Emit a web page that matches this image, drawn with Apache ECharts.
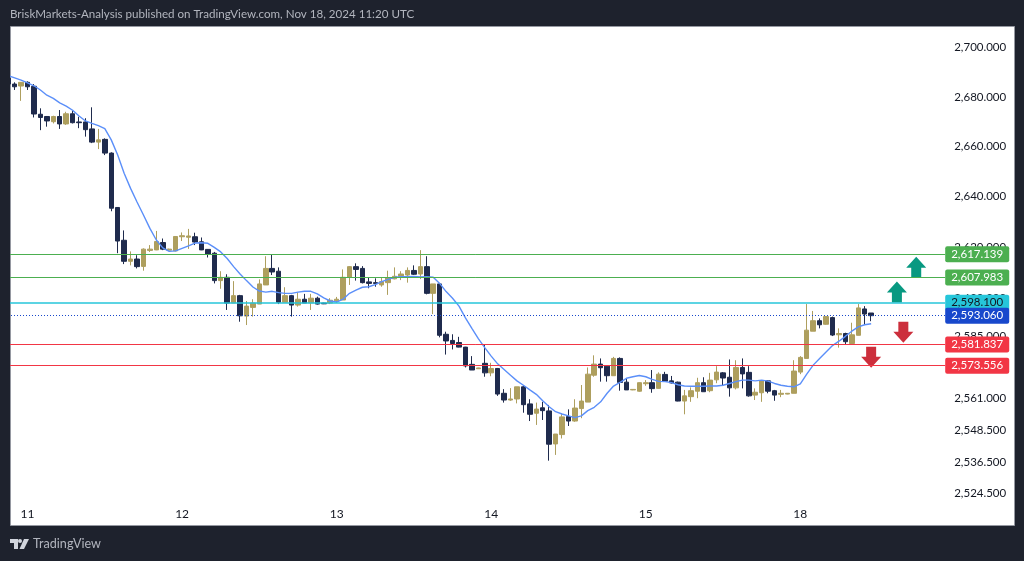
<!DOCTYPE html>
<html>
<head>
<meta charset="utf-8">
<title>XAUUSD H1</title>
<script src="https://cdn.jsdelivr.net/npm/echarts@6/dist/echarts.min.js"></script>
<style>
    html, body { margin: 0; padding: 0; background: #1e222d; }
    #chart { width: 1024px; height: 561px; }
</style>
</head>
<body>
<div id="chart"></div>
<script>
// hourly candles: open, close, low, high
const candles = [
    [2687.6,2685.2,2684.4,2688.0],[2685.2,2684.1,2682.8,2685.9],[2684.4,2685.9,2678.4,2686.0],[2685.9,2684.1,2682.8,2686.3],
    [2684.3,2673.1,2671.7,2685.2],[2673.0,2671.7,2666.6,2675.4],[2672.1,2670.3,2668.0,2672.3],[2670.0,2672.1,2669.3,2672.4],
    [2672.1,2669.1,2667.1,2674.7],[2669.1,2673.2,2668.7,2674.0],[2673.2,2669.6,2669.3,2674.4],[2669.9,2669.6,2667.4,2672.0],
    [2669.9,2666.8,2664.0,2671.4],[2667.1,2661.8,2661.4,2675.8],[2661.8,2662.7,2659.0,2667.1],[2662.9,2657.4,2656.6,2663.3],
    [2657.4,2635.4,2634.2,2657.7],[2635.7,2622.4,2617.6,2635.8],[2622.7,2614.4,2613.3,2626.6],[2614.4,2615.3,2612.8,2618.3],
    [2615.3,2612.3,2611.6,2616.8],[2612.4,2619.2,2610.7,2619.5],[2618.7,2619.2,2618.1,2620.8],[2618.9,2622.2,2618.8,2626.4],
    [2621.8,2619.2,2618.8,2623.4],[2618.8,2619.2,2618.6,2619.4],[2618.5,2624.2,2618.3,2624.3],[2624.1,2624.5,2622.4,2625.8],
    [2623.9,2624.4,2619.3,2627.2],[2624.1,2622.0,2620.8,2625.7],[2622.1,2618.9,2618.8,2623.8],[2619.1,2617.2,2615.9,2619.2],
    [2617.6,2606.8,2605.7,2618.1],[2606.8,2608.1,2603.6,2610.5],[2608.1,2598.0,2595.3,2609.3],[2598.0,2600.9,2598.0,2606.6],
    [2600.9,2593.0,2590.7,2601.2],[2592.9,2596.8,2589.4,2598.8],[2596.3,2598.0,2592.7,2599.5],[2597.6,2605.5,2597.6,2607.3],
    [2605.1,2611.6,2605.1,2616.4],[2611.6,2610.2,2609.0,2617.2],[2610.5,2598.3,2597.6,2612.0],[2598.3,2600.9,2598.3,2604.2],
    [2600.9,2597.2,2592.7,2601.2],[2597.2,2599.5,2596.6,2602.2],[2599.5,2598.0,2598.0,2601.6],[2598.1,2599.9,2595.3,2601.6],
    [2599.9,2597.6,2597.4,2600.5],[2598.0,2597.7,2597.6,2598.1],[2598.0,2599.1,2597.6,2599.9],[2598.9,2599.5,2598.1,2600.4],
    [2599.2,2608.1,2599.2,2611.2],[2608.1,2612.3,2605.1,2612.5],[2612.3,2611.2,2606.8,2613.6],[2611.6,2606.0,2605.7,2612.5],
    [2606.3,2605.7,2603.8,2608.1],[2606.0,2605.7,2604.4,2607.7],[2605.1,2606.4,2604.4,2608.1],[2606.0,2608.0,2601.2,2610.7],
    [2607.5,2608.5,2607.3,2612.0],[2608.5,2609.4,2607.0,2610.5],[2609.0,2610.8,2606.0,2612.0],[2610.8,2609.3,2609.0,2612.8],
    [2609.4,2612.3,2607.4,2618.8],[2612.3,2601.8,2601.4,2616.4],[2601.8,2605.5,2593.7,2605.5],[2605.5,2585.4,2584.6,2605.8],
    [2585.8,2583.2,2577.9,2586.8],[2583.4,2582.2,2579.9,2585.8],[2582.6,2580.8,2580.7,2584.8],[2580.8,2573.5,2572.9,2580.9],
    [2574.1,2571.9,2571.9,2577.3],[2572.4,2572.7,2572.3,2572.8],[2574.5,2570.8,2569.3,2582.0],[2570.8,2572.5,2569.5,2574.7],
    [2572.5,2562.6,2561.9,2572.7],[2562.9,2560.3,2559.3,2564.5],[2560.3,2560.7,2560.0,2564.9],[2560.7,2565.4,2559.0,2565.4],
    [2565.4,2558.5,2555.4,2565.7],[2558.8,2554.8,2552.2,2560.6],[2555.2,2556.8,2550.7,2559.3],[2557.3,2556.2,2552.6,2559.6],
    [2556.1,2543.3,2537.0,2558.4],[2543.4,2547.2,2539.2,2547.2],[2547.0,2553.8,2545.5,2554.9],[2553.9,2552.2,2550.3,2556.7],
    [2552.2,2557.2,2551.9,2560.6],[2557.0,2559.9,2553.3,2566.1],[2559.5,2570.3,2559.5,2572.9],[2569.9,2574.2,2569.3,2577.6],
    [2574.2,2572.8,2567.4,2576.4],[2573.4,2569.7,2567.4,2573.7],[2569.7,2576.4,2569.7,2577.0],[2576.4,2567.1,2563.9,2576.8],
    [2567.2,2564.2,2564.2,2568.7],[2564.2,2564.4,2564.1,2564.5],[2563.7,2567.0,2563.5,2567.1],[2566.6,2567.0,2565.8,2568.0],
    [2567.0,2564.7,2563.1,2571.9],[2564.8,2570.3,2564.7,2571.0],[2570.2,2567.6,2567.4,2571.2],[2567.7,2566.9,2566.7,2569.6],
    [2567.2,2559.9,2559.8,2567.4],[2559.9,2561.9,2554.8,2564.2],[2561.6,2563.9,2559.6,2565.2],[2563.7,2567.0,2561.0,2568.9],
    [2567.0,2563.5,2563.5,2569.1],[2563.9,2568.0,2563.3,2570.8],[2568.1,2571.1,2566.8,2573.4],[2570.8,2568.8,2565.7,2571.1],
    [2569.1,2565.0,2561.6,2576.0],[2565.0,2572.9,2564.4,2575.7],[2572.9,2570.4,2564.8,2576.4],[2571.0,2561.9,2561.6,2573.4],
    [2562.2,2563.3,2560.3,2564.8],[2563.1,2567.7,2559.6,2567.7],[2567.7,2563.7,2562.9,2568.0],[2563.9,2562.2,2560.0,2564.2],
    [2562.5,2562.9,2561.4,2564.2],[2562.6,2562.9,2562.5,2563.0],[2562.9,2571.5,2562.9,2575.7],[2571.1,2576.8,2570.3,2577.3],
    [2576.4,2587.4,2576.4,2597.6],[2587.0,2591.1,2587.0,2594.9],[2591.1,2589.5,2588.1,2592.0],[2589.7,2592.7,2589.5,2592.9],
    [2592.3,2585.5,2585.1,2592.7],[2585.6,2586.1,2580.6,2588.1],[2586.1,2582.9,2581.7,2586.4],[2582.2,2585.6,2582.0,2590.3],
    [2585.4,2596.1,2585.4,2597.6],[2595.7,2593.7,2589.4,2596.8],[2594.1,2593.06,2590.9,2594.1]
]

const maValues = [
    2688.6,2687.7,2686.8,2685.7,2684.5,2682.8,2680.7,2679.4,2677.6,2676.3,2674.6,2672.3,2670.3,2669.3,2668.4,2667.2,
    2662.7,2656.6,2649.3,2643.3,2637.9,2632.7,2627.4,2622.8,2619.7,2618.3,2618.5,2619.5,2620.5,2621.6,2621.7,2621.5,
    2619.9,2618.1,2615.5,2612.3,2609.4,2606.8,2604.3,2602.7,2602.3,2602.6,2602.1,2601.8,2601.8,2602.3,2602.6,2602.6,
    2601.6,2600.0,2598.8,2598.4,2599.5,2601.8,2603.1,2604.2,2604.4,2605.2,2606.4,2607.3,2608.1,2608.3,2608.3,2608.4,
    2608.2,2608.3,2608.1,2605.7,2602.5,2599.9,2596.8,2592.2,2588.1,2584.1,2580.6,2577.3,2574.3,2572.1,2569.9,2567.7,
    2566.0,2564.2,2562.5,2560.0,2557.7,2555.8,2554.9,2554.2,2553.5,2554.2,2556.2,2557.5,2559.6,2562.9,2565.7,2567.1,
    2568.7,2569.3,2569.8,2569.3,2568.3,2567.5,2567.4,2567.0,2566.2,2565.7,2565.6,2565.6,2565.6,2565.7,2565.7,2566.0,
    2566.7,2567.4,2568.0,2568.0,2567.7,2568.0,2567.6,2566.7,2566.0,2565.6,2565.4,2566.5,2570.3,2573.8,2576.4,2578.9,
    2581.4,2583.1,2585.0,2587.0,2588.7,2589.5,2589.9
]

const tickValues = [2700, 2680, 2660, 2640, 2620, 2600, 2585, 2561, 2548.5, 2536.5, 2524.5]

const dayTicks = { 3: '11', 27: '12', 51: '13', 75: '14', 99: '15', 123: '18' }
const bandCount = 146

const levelPrices = [2617.139, 2607.983, 2598.1, 2581.837, 2573.556]
const levelColors = ['#4caf50', '#4caf50', '#26c6da', '#f23645', '#f23645']
const levelText = ['#ffffff', '#ffffff', '#131722', '#ffffff', '#ffffff']
const lastPrice = 2593.06

const upArrows = [[138, 2602.3], [141, 2612.1]]
const downArrows = [[139, 2586.6], [134, 2576.9]]

const categories = []
for (let i = 0; i < bandCount; i++) {
    categories.push(dayTicks[i] || '')
}

const fmtPrice = v => Number(v).toLocaleString('en-US', { minimumFractionDigits: 3, maximumFractionDigits: 3 })

const tag = (value, bg, color) => ({
    yAxis: value,
    symbol: 'none',
    itemStyle: { color: bg },
    label: {
        show: true,
        position: 'end',
        distance: 0,
        formatter: fmtPrice(value),
        color: color,
        backgroundColor: bg,
        fontFamily: 'Lato',
        fontSize: 11.5,
        padding: [2, 6],
        borderRadius: 2
    },
    lineStyle: { color: bg, width: 1, type: 'solid', opacity: 1 }
})

const levelLines = levelPrices.map((p, i) => tag(p, levelColors[i], levelText[i]))
levelLines[2].lineStyle.width = 1.5 // cyan one is heavier
const lastLine = tag(lastPrice, '#1848cc', '#ffffff')
lastLine.lineStyle = { color: '#1848cc', width: 1, type: [1, 2] }
levelLines.push(lastLine)

const chart = echarts.init(document.getElementById('chart'), null, { renderer: 'canvas' })
chart.setOption({
    animation: false,
    backgroundColor: '#1e222d',
    title: {
        text: 'BriskMarkets-Analysis published on TradingView.com, Nov 18, 2024 11:20 UTC',
        left: 5,
        top: 3,
        textStyle: { color: '#b2b5be', fontFamily: 'Lato', fontSize: 11.6, fontWeight: 'normal' }
    },
    graphic: [
        {
            type: 'rect', z: -10,
            shape: { x: 10.5, y: 26.5, width: 1004, height: 499 },
            style: { fill: '#ffffff', stroke: '#9598a1', lineWidth: 1 }
        },
        {
            type: 'rect', z: 100,
            shape: { x: 0, y: 26, width: 10, height: 501 },
            style: { fill: '#1e222d' }
        },
        // logo
        {
            type: 'polygon', z: 100,
            shape: { points: [[10, 539], [18, 539], [18, 549], [14, 549], [14, 543], [10, 543]] },
            style: { fill: '#d1d4dc' }
        },
        {
            type: 'circle', z: 100,
            shape: { cx: 20, cy: 541, r: 2 },
            style: { fill: '#d1d4dc' }
        },
        {
            type: 'polygon', z: 100,
            shape: { points: [[24, 539], [29, 539], [24, 549], [19.5, 549]] },
            style: { fill: '#d1d4dc' }
        },
        {
            type: 'text', z: 100, x: 33, y: 537,
            style: { text: 'TradingView', fill: '#b2b5be', fontFamily: 'Lato', fontSize: 12.6 }
        }
    ],
    grid: { left: 5, top: 26, right: 78.8, bottom: 61 },
    xAxis: {
        type: 'category',
        data: categories,
        boundaryGap: true,
        axisLine: { show: false },
        axisTick: { show: false },
        splitLine: { show: false },
        axisLabel: {
            interval: 0,
            margin: 8,
            color: '#131722',
            fontFamily: 'Lato',
            fontSize: 12
        }
    },
    yAxis: {
        type: 'log',
        logBase: 10,
        position: 'right',
        min: 2522,
        max: 2708.8,
        axisLine: { show: false },
        axisTick: { show: false },
        splitLine: { show: false },
        axisLabel: {
            margin: 9,
            customValues: tickValues,
            color: '#131722',
            fontFamily: 'Lato',
            fontSize: 11.5,
            padding: [0, 0, 2, 0],
            formatter: fmtPrice
        }
    },
    series: [
        {
            name: 'candles',
            type: 'candlestick',
            data: candles,
            barWidth: 5,
            itemStyle: {
                color: '#ae9f5e',
                color0: '#1f2b4d',
                borderColor: '#ae9f5e',
                borderColor0: '#1f2b4d',
                borderWidth: 1
            }
        },
        {
            name: 'ma',
            type: 'line',
            data: maValues,
            showSymbol: false,
            smooth: false,
            lineStyle: { color: '#5b8ff9', width: 1.4 },
            markLine: { silent: true, symbol: 'none', animation: false, data: levelLines }
        },
        {
            name: 'up',
            type: 'scatter',
            data: upArrows,
            symbol: 'path://M10 0L20 11H15V21H5V11H0Z',
            symbolSize: [20, 21],
            itemStyle: { color: '#089981', opacity: 1 }
        },
        {
            name: 'down',
            type: 'scatter',
            data: downArrows,
            symbol: 'path://M5 0H15V10H20L10 21L0 10H5Z',
            symbolSize: [20, 21],
            itemStyle: { color: '#cc2f3c', opacity: 1 }
        }
    ]
})
</script>
</body>
</html>
